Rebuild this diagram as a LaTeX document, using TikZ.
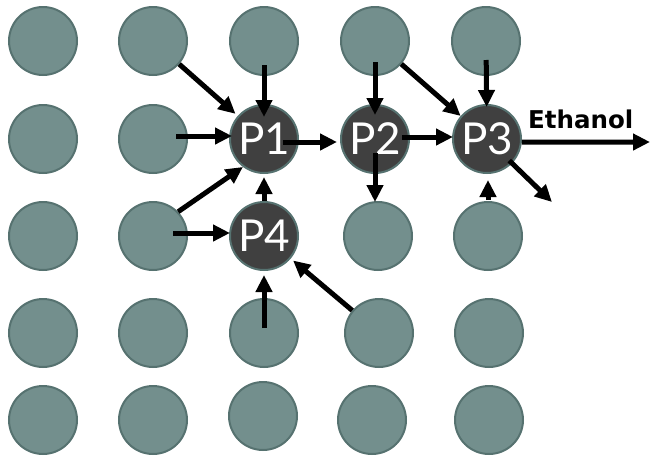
\documentclass[tikz,border=0pt]{standalone}
\usepackage{fontspec}
\setmainfont{Lato}
\newfontfamily\labfont{DejaVu Sans}
\usetikzlibrary{arrows.meta}
\definecolor{cellfill}{HTML}{738F8D}
\definecolor{cellline}{HTML}{567270}
\definecolor{procfill}{HTML}{404040}
\begin{document}
\begin{tikzpicture}[x=1pt,y=-1pt,
  cell/.style={circle, fill=cellfill, draw=cellline, line width=2pt, minimum size=68pt, inner sep=0pt},
  proc/.style={cell, fill=procfill, text=white, font=\fontsize{44}{44}\selectfont},
  arr/.style={line width=5pt, -{Triangle[length=17pt,width=16pt]}}]
\useasboundingbox (0,0) rectangle (651,456);
% row 1
\node[cell] (g11) at (43,41) {};
\node[cell] (g12) at (153,41) {};
\node[cell] (g13) at (264,41) {};
\node[cell] (g14) at (375,41) {};
\node[cell] (g15) at (486,41) {};
% row 2
\node[cell] (g21) at (43,139) {};
\node[cell] (g22) at (153,139) {};
\node[proc] (P1) at (264,139) {P1};
\node[proc] (P2) at (375,139) {P2};
\node[proc] (P3) at (487,139) {P3};
% row 3
\node[cell] (g31) at (43,236) {};
\node[cell] (g32) at (153,236) {};
\node[proc] (P4) at (264,236) {P4};
\node[cell] (g34) at (378,236) {};
\node[cell] (g35) at (488,236) {};
% row 4
\node[cell] (g41) at (43,333) {};
\node[cell] (g42) at (153,333) {};
\node[cell] (g43) at (264,333) {};
\node[cell] (g44) at (379,333) {};
\node[cell] (g45) at (489,333) {};
% row 5
\node[cell] (g51) at (43,420) {};
\node[cell] (g52) at (153,420) {};
\node[cell] (g53) at (263,416) {};
\node[cell] (g54) at (372,420) {};
\node[cell] (g55) at (489,420) {};
% free ends
\coordinate (eth) at (650,142);
\coordinate (out) at (552,202);
\node[font=\labfont\bfseries\fontsize{24.5}{24.5}\selectfont, anchor=base west, inner sep=0pt] (ethlab) at (528,128) {Ethanol};
% arrows into P1
\draw[arr, shorten <=35pt, shorten >=38pt] (g12.center) -- (P1.center);
\draw[arr, shorten <=24pt, shorten >=22pt] (g13.center) -- (P1.center);
\draw[arr, shorten <=23pt, shorten >=32pt] ([yshift=3pt]g22.center) -- ([yshift=3pt]P1.center);
\draw[arr] (g32.44) -- (P1.-127);
\draw[arr, shorten >=3pt] (P4) -- (P1);
% P1 -> P2
\draw[arr, shorten <=19pt, shorten >=38pt] ([yshift=-3pt]P1.center) -- ([yshift=-3pt]P2.center);
\draw[arr, shorten <=21pt, shorten >=24pt] (g14.center) -- (P2.center);
% into P3
\draw[arr] (g14) -- (P3);
\draw[arr, shorten <=19pt, shorten >=32pt] (g15.center) -- (P3.center);
\draw[arr, shorten <=27pt, shorten >=34pt] ([yshift=2pt]P2.center) -- ([yshift=2pt]P3.center);
\draw[arr, shorten <=36pt, shorten >=41pt] (g35.center) -- (g35.center |- P3.center);
% out of P2, P3
\draw[arr, shorten <=14pt, shorten >=34pt] (P2.center) -- (P2.center |- g34.center);
\draw[arr] (P3.-5) -- (eth);
\draw[arr, shorten <=31pt] (P3.center) -- (out);
% into P4
\draw[arr, shorten <=20pt, shorten >=34pt] ([yshift=3pt]g32.center) -- ([yshift=3pt]P4.center);
\draw[arr, shorten >=3pt] (g44) -- (P4);
\draw[arr, shorten <=5pt, shorten >=39pt] (g43.center) -- (P4.center);
\end{tikzpicture}
\end{document}
